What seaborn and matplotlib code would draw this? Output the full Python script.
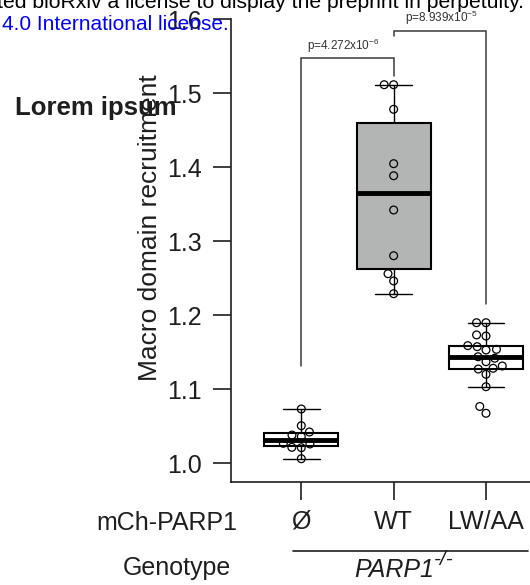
import numpy as np
import pandas as pd
import matplotlib
matplotlib.use("Agg")
import matplotlib.pyplot as plt
from matplotlib.lines import Line2D
import seaborn as sns

# ---- data ----
groups = ["Ø", "WT", "LW/AA"]
vals_empty = [1.0734, 1.0508, 1.0423, 1.0382, 1.0360, 1.0270, 1.0261, 1.0216, 1.0211, 1.0062]
vals_wt = [1.5116, 1.5116, 1.4784, 1.4049, 1.3886, 1.3423, 1.2805, 1.2562, 1.2464, 1.2292]
vals_lwaa = [1.1900, 1.1900, 1.1735, 1.1720, 1.1590, 1.1576, 1.1540, 1.1531, 1.1440,
             1.1420, 1.1373, 1.1315, 1.1284, 1.1274, 1.1203, 1.1035, 1.0768, 1.0676]
box_fill = {"Ø": "white", "WT": "#b3b5b5", "LW/AA": "white"}
box_whis = {"Ø": (0, 100), "WT": (0, 100), "LW/AA": 1.5}
yticks = [1.0, 1.1, 1.2, 1.3, 1.4, 1.5, 1.6]
# significance brackets: (group a, group b, y at a, y top, y at b, label x, label)
brackets = [
    (0, 1, 1.1319, 1.5473, 1.5234, 0.45, r"p=4.272x10$^{-6}$"),
    (1, 2, 1.5774, 1.5846, 1.2153, 1.52, r"p=8.939x10$^{-5}$"),
]

df = pd.DataFrame({
    "group": ["Ø"] * len(vals_empty) + ["WT"] * len(vals_wt) + ["LW/AA"] * len(vals_lwaa),
    "value": vals_empty + vals_wt + vals_lwaa,
})

sns.set_style("ticks")
plt.rcParams["font.family"] = ["Liberation Sans", "DejaVu Sans"]
plt.rcParams["mathtext.fontset"] = "custom"
plt.rcParams["mathtext.rm"] = "Liberation Sans"
plt.rcParams["mathtext.it"] = "Liberation Sans:italic"
plt.rcParams["mathtext.bf"] = "Liberation Sans:bold"

INK = "#1e1e1e"
W, H = 530, 585
fig = plt.figure(figsize=(W / 100, H / 100), dpi=100)
ax_l, ax_r, ax_t, ax_b = 231, 530, 19.3, 482
ax = fig.add_axes([ax_l / W, 1 - ax_b / H, (ax_r - ax_l) / W, (ax_b - ax_t) / H])

for g in groups:
    sns.boxplot(data=df[df.group == g], x="group", y="value", order=groups,
                color=box_fill[g], saturation=1, width=0.8, whis=box_whis[g],
                linecolor="black", linewidth=1.5, showfliers=False,
                medianprops=dict(linewidth=3.5, color="black"),
                whiskerprops=dict(linewidth=1.0),
                capprops=dict(linewidth=1.0),
                ax=ax)

sns.swarmplot(data=df, x="group", y="value", order=groups, size=5.6,
              facecolor="none", edgecolor="black", linewidth=0.9, ax=ax)

# brackets
for a, b, ya, ytop, yb, lx, lab in brackets:
    ax.plot([a, a, b, b], [ya, ytop, ytop, yb], color="#3a3a3a", lw=1.1,
            clip_on=False, solid_joinstyle="miter")
    ax.text(lx, ytop + 0.005, lab, ha="center", va="bottom",
            fontsize=8.5, color="#333333", clip_on=False)

spacing = 92.35
ax.set_xlim((ax_l - 301.3) / spacing, (ax_r - 301.3) / spacing)
ax.set_ylim(1.0 - (ax_b - 463.3) / 740, 1.6)
ax.set_yticks(yticks)
ax.set_yticklabels([f"{t:.1f}" for t in yticks])
ax.set_xlabel("")
ax.set_ylabel("Macro domain recruitment", fontsize=19, color=INK)
ax.yaxis.set_label_coords(-0.232, 0.549)
sns.despine(ax=ax)
for s in ["left", "bottom"]:
    ax.spines[s].set_linewidth(1.2)
    ax.spines[s].set_color(INK)
ax.tick_params(axis="both", length=13, width=1.2, color=INK,
               labelsize=18, labelcolor=INK)
ax.tick_params(axis="y", pad=8)
ax.tick_params(axis="x", pad=7)

# row labels and genotype line
fig.text(166.7 / W, 1 - 522.6 / H, "mCh-PARP1", ha="center", va="center",
         fontsize=18, color=INK)
fig.text(176.9 / W, 1 - 568.3 / H, "Genotype", ha="center", va="center",
         fontsize=18, color=INK)
fig.add_artist(Line2D([292.8 / W, 528 / W], [1 - 550.7 / H] * 2,
                      transform=fig.transFigure, color=INK, lw=1.2))
fig.text(354 / W, 1 - 577 / H, "PARP1", ha="left", va="baseline",
         fontsize=18, style="italic", color=INK)
fig.text(434 / W, 1 - 565 / H, "-/-", ha="left", va="baseline",
         fontsize=15, style="italic", color=INK)

fig.text(15 / W, 1 - 108 / H, "Lorem ipsum", ha="left", va="center",
         fontsize=18.5, fontweight="bold", color=INK)

# preprint header overlays
fig.text(-3 / W, 1 - 8.5 / H, "ted bioRxiv a license to display the preprint in perpetuity.",
         ha="left", va="baseline", fontsize=15.2, color="black")
fig.text(2 / W, 1 - 29.8 / H, "4.0 International license.", ha="left",
         va="baseline", fontsize=15.0, color="#0000ff")

fig.savefig("out.png", dpi=100)
